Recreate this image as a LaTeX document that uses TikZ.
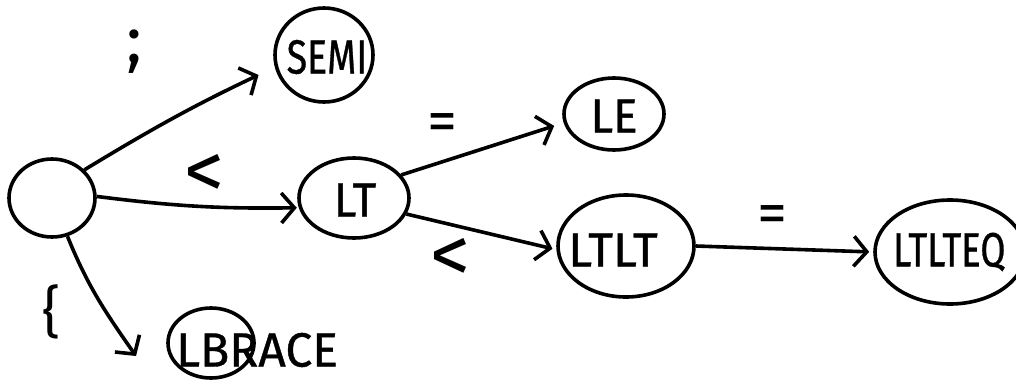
\documentclass[tikz,border=0pt]{standalone}
\usepackage{fontspec}
\setmainfont{Fira Sans}
\newfontfamily\hand{Fira Sans}[FakeBold=0.8]
\usetikzlibrary{shapes.geometric,arrows.meta}
\tikzset{
  st/.style={draw, ellipse, line width=3.6pt, inner sep=0pt},
  txt/.style={inner sep=0pt, font=\hand\fontsize{48}{48}\selectfont},
  lbl/.style={inner sep=0pt},
  arr/.style={line width=3.6pt, -{Straight Barb[length=13pt,width=30pt,line width=3.6pt]}},
}
\begin{document}
\begin{tikzpicture}[x=1pt,y=-1pt]
\useasboundingbox (0,0) rectangle (1016,380);
% states
\node[st, minimum width=86pt, minimum height=78pt] (s) at (52,198) {};
\node[st, minimum width=98pt, minimum height=94pt] (semi) at (324,55) {};
\node[st, minimum width=110pt, minimum height=80pt] (lt) at (354,198) {};
\node[st, minimum width=100pt, minimum height=72pt] (le) at (614,114) {};
\node[st, minimum width=136pt, minimum height=102pt] (ltlt) at (626,246) {};
\node[st, minimum width=150pt, minimum height=104pt] (ltlteq) at (950,252) {};
\node[st, minimum width=86pt, minimum height=70pt] (lb) at (211,343) {};
% texts
\node[txt] (tsemi) at (327,57) {\scalebox{0.78}[1]{SEMI}};
\node[txt] (tlt) at (355,200) {\scalebox{0.95}[1]{LT}};
\node[txt] (tle) at (614,116) {\scalebox{0.95}[1]{LE}};
\node[txt] (tltlt) at (613,250) {\scalebox{1.0}[1]{LTLT}};
\node[txt, anchor=west] (tltlteq) at (893,252) {\scalebox{0.76}[1]{LTLTEQ}};
\node[txt, anchor=west] (tlb) at (176,350) {\scalebox{1.0}[1]{LBRACE}};
% edges
\coordinate (lbin) at (136,356);
\draw[arr, shorten >=18pt] (s.41) to[bend left=3] (semi.194);
\draw[arr, shorten >=2pt] (s.2) to[bend right=4] (lt.190);
\draw[arr, shorten >=10pt] (lt.26) to (le.190);
\draw[arr, shorten >=4pt] (lt.-17) to (ltlt.183);
\draw[arr, shorten >=4pt] (ltlt.0) to (ltlteq.180);
\draw[arr] (s.-68) to[out=-68, in=125] (lbin);
% labels
\node[lbl, font=\fontsize{66}{66}\selectfont] (l1) at (134,52) {;};
\node[lbl, font=\fontsize{80}{80}\selectfont] (l2) at (204,176) {<};
\node[lbl, font=\fontsize{60}{60}\selectfont] (l3) at (442,128) {=};
\node[lbl, font=\fontsize{80}{80}\selectfont] (l4) at (450,260) {<};
\node[lbl, font=\fontsize{60}{60}\selectfont] (l5) at (772,220) {=};
\node[lbl, font=\fontsize{56}{56}\selectfont] (l6) at (52,312) {\{};
\end{tikzpicture}
\end{document}
